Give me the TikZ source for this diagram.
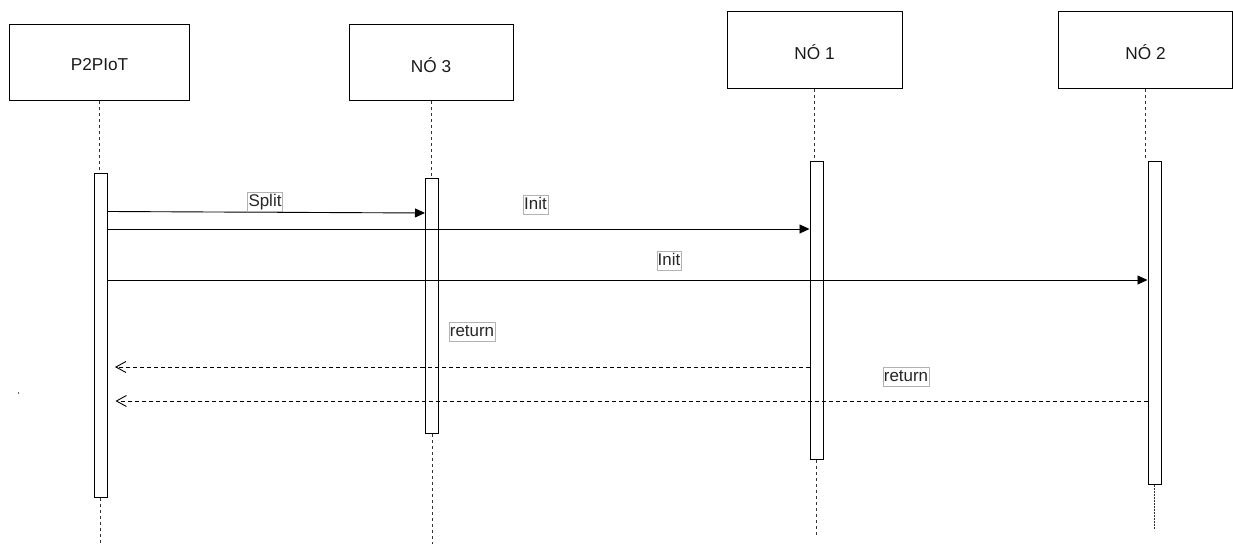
\documentclass[tikz,border=0pt]{standalone}
\usepackage{fontspec}
\setmainfont{Liberation Sans}
\usetikzlibrary{arrows.meta,calc}
\begin{document}
\begin{tikzpicture}[x=1bp,y=-1bp,
 actor/.style={draw, line width=1bp, minimum height=76bp, inner sep=0, text height=17.2bp, text depth=0bp, font=\fontsize{17.3}{20}\selectfont, text=black!90},
 bar/.style={draw, line width=1bp, fill=white, minimum width=13bp, inner sep=0, anchor=north},
 life/.style={line width=0.9bp, dash pattern=on 3bp off 3bp, black!80},
 denselife/.style={line width=0.9bp, dash pattern=on 2bp off 1bp, black!80},
 msg/.style={line width=0.9bp, -{Triangle[length=10bp,width=9bp]}},
 ret/.style={line width=0.9bp, dash pattern=on 4bp off 3bp, -{Straight Barb[length=10bp,width=11bp]}},
 lbl/.style={draw=black!30, fill=white, inner xsep=1bp, inner ysep=1.5bp, text height=13bp, text depth=3bp, font=\fontsize{17}{20}\selectfont, text=black!85}]
\useasboundingbox (0,0) rectangle (1233,544);

% actors
\node[actor, minimum width=179bp, text height=15.6bp] (p) at (99.5,63) {P2PIoT};
\node[actor, minimum width=164bp, text height=19.6bp] (n3) at (431,63) {NÓ 3};
\node[actor, minimum width=175bp, minimum height=77bp] (n1) at (814.5,50.5) {NÓ 1};
\node[actor, minimum width=174bp, minimum height=77bp] (n2) at (1145.5,50.5) {NÓ 2};

% coordinates
\coordinate (bot) at (0,544);
\coordinate (bot1) at (0,536);
\coordinate (bot2) at (0,529);
\coordinate (ySplitA) at (0,211.5);
\coordinate (ySplitB) at (0,213);
\coordinate (yInitA) at (0,229);
\coordinate (yInitB) at (0,280);
\coordinate (yRetA) at (0,367);
\coordinate (yRetB) at (0,401);

% lifelines (behind bars)
\draw[life] (p.south) -- (p.south |- 0,173);
\draw[life] (n3.south) -- (n3.south |- 0,178);
\draw[life] (n1.south) -- (n1.south |- 0,161);
\draw[life] (n2.south) -- (n2.south |- 0,161);

% activation bars
\node[bar, minimum height=324bp] (bp) at (100.5,173) {};
\node[bar, minimum height=255bp] (b3) at (432,178) {};
\node[bar, minimum height=298bp] (b1) at (816.5,161) {};
\node[bar, minimum height=323bp] (b2) at (1154.5,161) {};

\draw[life] (bp.south) -- (bp.south |- bot);
\draw[life] (b3.south) -- (b3.south |- bot);
\draw[life] (b1.south) -- (b1.south |- bot1);
\draw[denselife] (b2.south) -- (b2.south |- bot2);

% messages
\draw[msg] (bp.east |- ySplitA) -- (b3.west |- ySplitB);
\draw[msg] (bp.east |- yInitA) -- (b1.west |- yInitA);
\draw[msg] (bp.east |- yInitB) -- (b2.west |- yInitB);
\draw[ret] (b1.west |- yRetA) -- ($(bp.east |- yRetA)+(7.5,0)$);
\draw[ret] (b2.west |- yRetB) -- ($(bp.east |- yRetB)+(8,0)$);

% labels
\node[lbl] (lsplit) at (265,201.5) {Split};
\node[lbl] (linitA) at (535.5,204.5) {Init};
\node[lbl] (linitB) at (669,260.5) {Init};
\node[lbl] (lretA) at (472,332) {return};
\node[lbl] (lretB) at (906,376.5) {return};

% stray mark
\fill[black!60] (17.6,392) rectangle (18.6,394.5);
\end{tikzpicture}
\end{document}
